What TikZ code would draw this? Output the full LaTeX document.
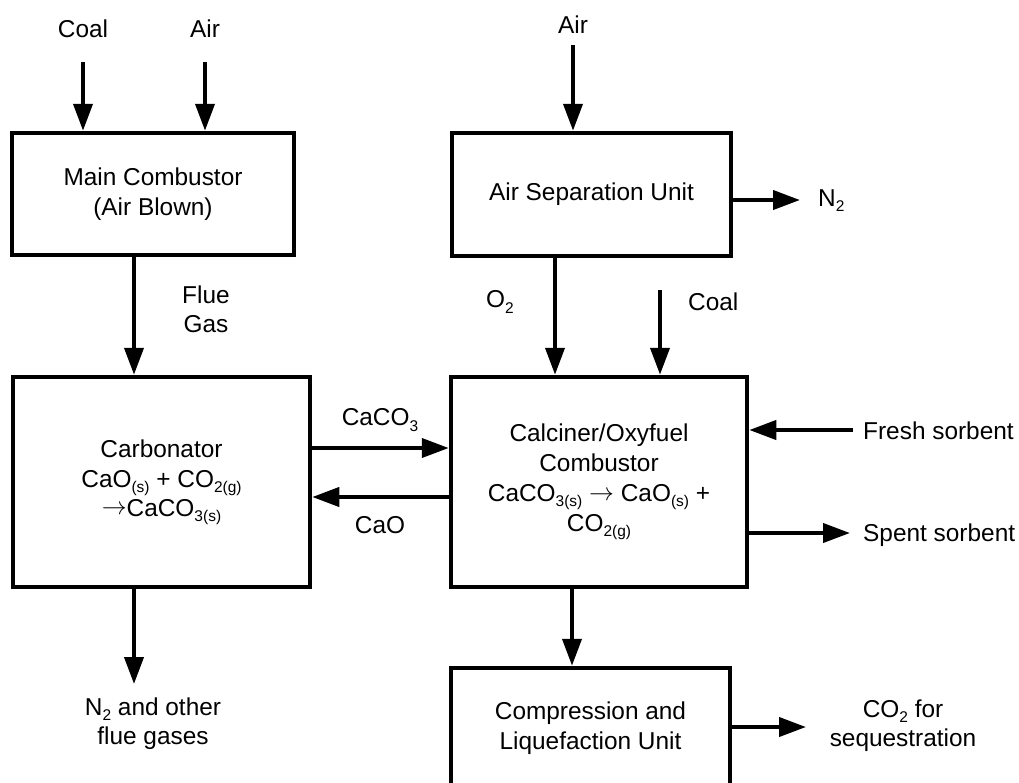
\documentclass[tikz,border=0pt]{standalone}
\usepackage{fontspec}
\setmainfont{Liberation Sans}
\usetikzlibrary{arrows.meta}
\newcommand\chemsub[1]{\raisebox{-0.4ex}{\fontsize{15.5}{15.5}\selectfont #1}}
\newcommand\chemarrow{\raisebox{0.1ex}{$\rightarrow$}}
\begin{document}
\begin{tikzpicture}[x=1pt,y=-1pt,
  box/.style={draw,line width=4.5pt,align=center,inner sep=0pt,font=\fontsize{24.4}{30}\selectfont},
  lbl/.style={inner sep=0pt,align=center,font=\fontsize{24.4}{29}\selectfont},
  arr/.style={line width=4pt,-{Triangle[length=27pt,width=19pt]}}]
\useasboundingbox (0,0) rectangle (1019,782);
\clip (0,0) rectangle (1019,782);
% boxes
\node[box,minimum width=282pt,minimum height=122pt] (mc) at (153,194) {Main Combustor\\(Air Blown)};
\node[box,minimum width=279pt,minimum height=123pt] (asu) at (591.5,194.5) {Air Separation Unit};
\node[box,minimum width=297pt,minimum height=210pt] (carb) at (161.5,482)
  {Carbonator\\CaO\chemsub{(s)} + CO\chemsub{2(g)}\\[-1pt]\chemarrow CaCO\chemsub{3(s)}};
\node[box,minimum width=296pt,minimum height=210pt] (calc) at (599,482)
  {Calciner/Oxyfuel\\Combustor\\CaCO\chemsub{3(s)} \chemarrow{} CaO\chemsub{(s)} +\\CO\chemsub{2(g)}};
\node[box,minimum width=279pt,minimum height=120pt] (comp) at (590.5,728) {Compression and\\Liquefaction Unit};
% labels
\node[lbl] (coalL) at (83,29) {Coal};
\node[lbl] (airL) at (205,29) {Air};
\node[lbl] (air2L) at (573,25) {Air};
\node[lbl,anchor=west] (n2L) at (818,201) {N\chemsub{2}};
\node[lbl,anchor=north west] (flueL) at (182,286) {Flue\\Gas};
\node[lbl] (o2L) at (500,302) {O\chemsub{2}};
\node[lbl,anchor=west] (coal2L) at (688,302) {Coal};
\node[lbl] (caco3L) at (380,420) {CaCO\chemsub{3}};
\node[lbl] (caoL) at (380,525) {CaO};
\node[lbl,anchor=west] (freshL) at (863,431) {Fresh sorbent};
\node[lbl,anchor=west] (spentL) at (863,535) {Spent sorbent};
\node[lbl] (n2oL) at (153,724) {N\chemsub{2} and other\\flue gases};
\node[lbl] (co2L) at (903,726) {CO\chemsub{2} for\\sequestration};
% coordinates for free ends
\coordinate (coalA) at (83,62);
\coordinate (airA) at (205,62);
\coordinate (air2A) at (573,45);
\coordinate (n2E) at (800,200);
\coordinate (flueX) at (134,300);
\coordinate (o2X) at (555,300);
\coordinate (coal2A) at (660,290);
\coordinate (yCa) at (380,448);
\coordinate (yCaO) at (380,497);
\coordinate (freshA) at (853,430);
\coordinate (spentE) at (850,533);
\coordinate (outE) at (134,684);
\coordinate (compX) at (572,630);
\coordinate (co2E) at (806,727);
% connectors
\draw[arr] (coalA) -- (coalA |- mc.north);
\draw[arr] (airA) -- (airA |- mc.north);
\draw[arr] (air2A) -- (air2A |- asu.north);
\draw[arr] (asu.east |- n2E) -- (n2E);
\draw[arr] (mc.south -| flueX) -- (flueX |- carb.north);
\draw[arr] (asu.south -| o2X) -- (o2X |- calc.north);
\draw[arr] (coal2A) -- (coal2A |- calc.north);
\draw[arr] (carb.east |- yCa) -- (calc.west |- yCa);
\draw[arr] (calc.west |- yCaO) -- (carb.east |- yCaO);
\draw[arr] (freshA) -- (calc.east |- freshA);
\draw[arr] (calc.east |- spentE) -- (spentE);
\draw[arr] (carb.south -| outE) -- (outE);
\draw[arr] (calc.south -| compX) -- (compX |- comp.north);
\draw[arr] (comp.east |- co2E) -- (co2E);
\end{tikzpicture}
\end{document}
